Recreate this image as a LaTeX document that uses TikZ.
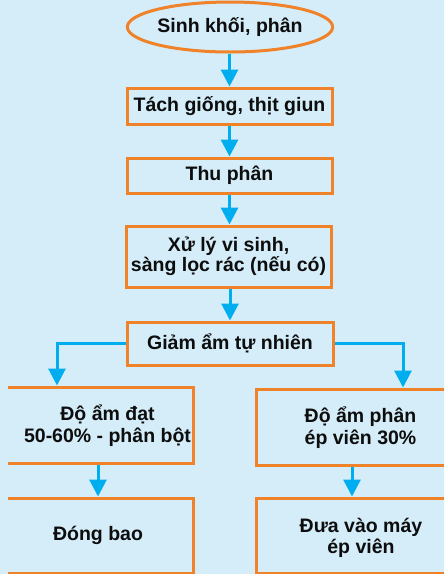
\documentclass[tikz,border=0pt]{standalone}
\usepackage{fontspec}
\setmainfont{Liberation Sans}
\usetikzlibrary{arrows.meta,shapes.geometric}
\definecolor{bgblue}{HTML}{D4EDF9}
\definecolor{boxorange}{HTML}{F0822A}
\definecolor{flowblue}{HTML}{00AEEF}
\begin{document}
\begin{tikzpicture}[x=1pt,y=-1pt,
  txt/.style={font=\bfseries\fontsize{19.5}{22}\selectfont, text=black!95, align=center, inner sep=0pt},
  stepbox/.style={draw=boxorange, line width=3pt, rectangle, inner sep=0pt, txt},
  flow/.style={draw=flowblue, line width=3pt, -{Triangle[length=17pt,width=17pt]}}]

% page and background
\useasboundingbox (0,0) rectangle (444,574);
\fill[bgblue] (0,0) rectangle (444,574);

% main column
\node[ellipse, draw=boxorange, line width=3pt, minimum width=200pt, minimum height=50pt, inner sep=0pt, txt] (start) at (230,27) {Sinh khối, phân};
\node[stepbox, minimum width=205pt, minimum height=36pt] (sep) at (229.5,106) {Tách giống, thịt giun};
\node[stepbox, minimum width=205pt, minimum height=35pt] (collect) at (229.5,175.5) {Thu phân};
\node[stepbox, minimum width=205pt, minimum height=61pt, font=\bfseries\fontsize{19.5}{19.5}\selectfont] (treat) at (228.5,256.5) {Xử lý vi sinh,\\sàng lọc rác (nếu có)};
\node[stepbox, minimum width=206pt, minimum height=43pt] (dry) at (230,343.5) {Giảm ẩm tự nhiên};

% side columns, running past the page edges
\begin{scope}
  \clip (8,0) rectangle (444,574);
  \node[stepbox, minimum width=213pt, minimum height=76pt] (powder) at (86.5,425) {};
  \node[stepbox, minimum width=213pt, minimum height=75pt] (bag) at (86.5,535.5) {};
  \node[stepbox, minimum width=214pt, minimum height=76pt] (pellet) at (363,427) {};
  \node[stepbox, minimum width=214pt, minimum height=75pt] (press) at (363,535.5) {};
\end{scope}

% side texts
\node[txt] (powdertxt) at (107.5,426) {Độ ẩm đạt\\50-60\% - phân bột};
\node[txt] (bagtxt) at (98,535) {Đóng bao};
\node[txt] (pellettxt) at (360.5,428) {Độ ẩm phân\\ép viên 30\%};
\node[txt, font=\bfseries\fontsize{19.5}{20.5}\selectfont] (presstxt) at (361,538) {Đưa vào máy\\ép viên};

% connectors
\draw[flow] (start.south -| sep.north) -- (sep.north);
\draw[flow] (sep.south) -- (collect.north);
\draw[flow] (collect.south) -- (collect.south |- treat.north);
\draw[flow] (treat.south -| dry.north) -- (dry.north);
\draw[flow] (dry.west) -| ([xshift=-29.5pt]powder.north);
\draw[flow] (dry.east) -| ([xshift=40pt]pellet.north);
\draw[flow] ([xshift=11.5pt]powder.south) -- ([xshift=11.5pt]bag.north);
\draw[flow] ([xshift=-11pt]pellet.south) -- ([xshift=-11pt]press.north);
\end{tikzpicture}
\end{document}
